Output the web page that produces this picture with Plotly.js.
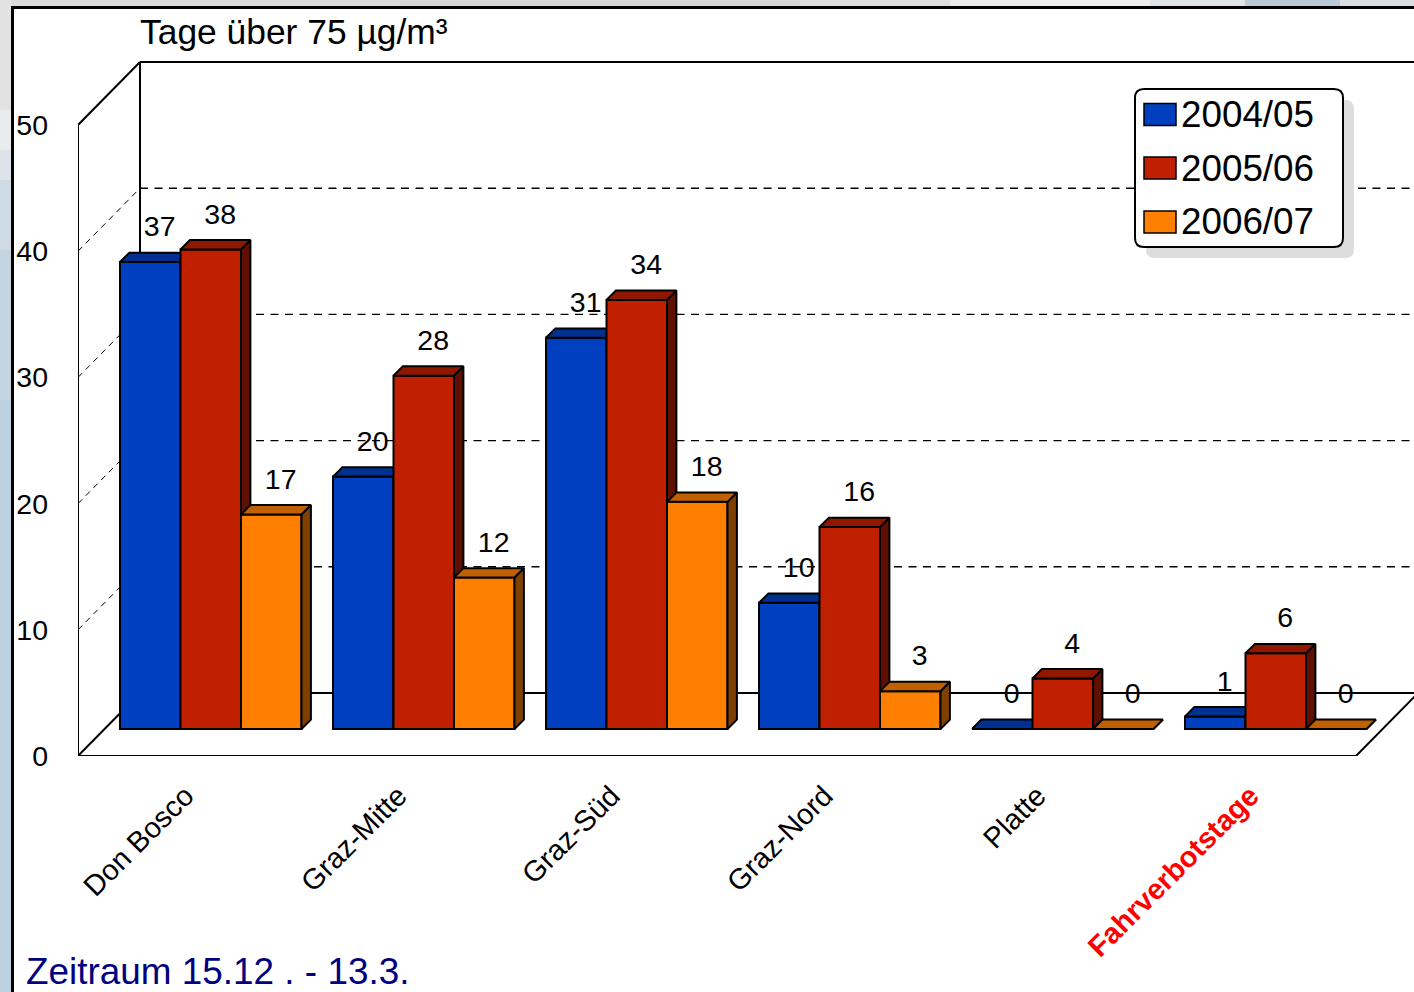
<!DOCTYPE html>
<html><head><meta charset="utf-8">
<script src="https://cdn.plot.ly/plotly-3.0.1.min.js"></script>
<style>html,body{margin:0;padding:0;background:#fff;overflow:hidden}</style>
</head><body><div id="chart" style="width:1414px;height:992px"></div>
<script>
const categories = ["Don Bosco","Graz-Mitte","Graz-Süd","Graz-Nord","Platte","Fahrverbotstage"];
const seriesNames = ["2004/05","2005/06","2006/07"];
const values0405 = [37,20,31,10,0,1];
const values0506 = [38,28,34,16,4,6];
const values0607 = [17,12,18,3,0,0];
const gridValues = [10,20,30,40];
const yTicks = [0,10,20,30,40,50];
const frontColors = ["#0040C0","#C02000","#FF8000"];
const topColors = ["#003090","#901800","#C06000"];
const sideColors = ["#002060","#601000","#804000"];

const FONT = "Liberation Sans, Arial, Helvetica, sans-serif";
const W=1414,H=992,L=78,T=10,B=756;
const PXX=213, PXY=12.62;
const xRange=[-0.5,-0.5+(W-L)/PXX], yRange=[0,(B-T)/PXY];
const floorDX=62/PXX, floorDY=63/PXY;     // full depth of the chart box
const base=27/PXY;                         // bars stand this far into the box
const barW=60.5/PXX, barDX=9.4/PXX, barDY=9.4/PXY;
const groupStart=-64.5/PXX;
const labelLift=33/PXY;
const px=x=>(x-L)/(W-L), py=y=>(B-y)/(B-T);

const all=[values0405,values0506,values0607];
const traces=[];
all.forEach((vals,s)=>{
  const suf=s===0?"":String(s+1);
  const xa="x"+suf, ya="y"+suf;
  const left=categories.map((c,i)=>i+groupStart+barW*s);
  const center=left.map(v=>v+barW/2);
  traces.push({type:"bar",name:seriesNames[s],x:center,y:vals,base:vals.map(()=>base),width:barW,
    xaxis:xa,yaxis:ya,marker:{color:frontColors[s],line:{color:"#000",width:2}},
    customdata:categories,hovertemplate:"%{customdata}<br>"+seriesNames[s]+": %{y}<extra></extra>"});
  const sx=[],sy=[],tx=[],ty=[];
  vals.forEach((v,i)=>{
    const x0=left[i],x1=x0+barW,y0=base,y1=base+v;
    tx.push(x0,x0+barDX,x1+barDX,x1,x0,null);
    ty.push(y1,y1+barDY,y1+barDY,y1,y1,null);
    sx.push(x1,x1+barDX,x1+barDX,x1,x1,null);
    sy.push(y0,y0+barDY,y1+barDY,y1,y0,null);
  });
  traces.push({type:"scatter",mode:"lines",x:sx,y:sy,xaxis:xa,yaxis:ya,fill:"toself",fillcolor:sideColors[s],
    line:{color:"#000",width:2},hoverinfo:"skip",showlegend:false});
  traces.push({type:"scatter",mode:"lines",x:tx,y:ty,xaxis:xa,yaxis:ya,fill:"toself",fillcolor:topColors[s],
    line:{color:"#000",width:2},hoverinfo:"skip",showlegend:false});
});
all.forEach((vals,s)=>{
  traces.push({type:"scatter",mode:"text",xaxis:"x3",yaxis:"y3",
    x:vals.map((v,i)=>i+groupStart+barW*(s+.5)+barDX),
    y:vals.map(v=>base+v+labelLift),
    text:vals.map(String),textposition:"middle center",
    textfont:{family:FONT,size:28.5,color:"#000"},cliponaxis:false,hoverinfo:"skip",showlegend:false});
});

const line=(x0,y0,x1,y1,w,dash)=>({type:"line",xref:"x",yref:"y",x0,y0,x1,y1,layer:"below",
  line:{color:"#000",width:w,dash:dash||"solid"}});
const rectPx=(x0,y0,x1,y1,color,layer)=>({type:"rect",xref:"paper",yref:"paper",x0:px(x0),x1:px(x1),y0:py(y1),y1:py(y0),
  fillcolor:color,line:{width:0},layer:layer||"below"});
const roundBox=(x0,y0,x1,y1,r,fill,lw)=>{
  const X=v=>px(v),Y=v=>py(v);
  const p=`M${X(x0+r)},${Y(y0)} L${X(x1-r)},${Y(y0)} Q${X(x1)},${Y(y0)} ${X(x1)},${Y(y0+r)} L${X(x1)},${Y(y1-r)} Q${X(x1)},${Y(y1)} ${X(x1-r)},${Y(y1)} L${X(x0+r)},${Y(y1)} Q${X(x0)},${Y(y1)} ${X(x0)},${Y(y1-r)} L${X(x0)},${Y(y0+r)} Q${X(x0)},${Y(y0)} ${X(x0+r)},${Y(y0)} Z`;
  return {type:"path",xref:"paper",yref:"paper",path:p,fillcolor:fill,layer:"above",
    line:{color:lw?"#000":fill,width:lw||0}};
};

const x0v=xRange[0], xEnd=xRange[1]+0.05, xFrontEnd=5.5, yTop=yTicks[yTicks.length-1];
const shapes=[
  // page backdrop around the chart frame
  rectPx(0,0,400,6,"#DADADA"),rectPx(400,0,800,6,"#D6D6D6"),rectPx(800,0,950,6,"#DEDEDE"),rectPx(950,0,1040,6,"#EAEAEA"),
  rectPx(1040,0,1150,6,"#EFEFEF"),rectPx(1150,0,1245,6,"#E0E4E7"),rectPx(1245,0,1340,6,"#B9CBD9"),rectPx(1340,0,1414,6,"#D8DEE3"),
  rectPx(0,0,11,110,"#E2E2E2"),rectPx(0,110,11,150,"#E9ECEE"),rectPx(0,150,11,180,"#DDE3E8"),rectPx(0,180,11,250,"#CFDBE4"),
  rectPx(0,250,11,400,"#C4D4E1"),rectPx(0,400,11,992,"#BDD0E0"),
  rectPx(11,6,1414,9,"#000"),rectPx(11,6,14,992,"#000"),
  // chart box
  line(x0v,0,x0v,yTop,2),
  line(x0v,yTop,x0v+floorDX,yTop+floorDY,2),
  line(x0v+floorDX,floorDY,x0v+floorDX,yTop+floorDY,2),
  line(x0v+floorDX,yTop+floorDY,xEnd,yTop+floorDY,2),
  line(x0v,0,xFrontEnd,0,2),
  line(x0v,0,x0v+floorDX,floorDY,2),
  line(x0v+floorDX,floorDY,xEnd,floorDY,2),
  line(xFrontEnd,0,xFrontEnd+floorDX,floorDY,2)
];
gridValues.forEach(v=>{
  shapes.push(line(x0v+floorDX,v+floorDY,xEnd,v+floorDY,1.4,"8px,6.5px"));
  shapes.push(line(x0v,v,x0v+floorDX,v+floorDY,1,"6px,5px"));
});
// legend box
shapes.push(roundBox(1146,100,1354,258,9,"#DDDDDD",0));
shapes.push(roundBox(1135,89,1343,247,9,"#FFFFFF",2));
const legendY=[114.5,168,222];
const annotations=[
  {xref:"paper",yref:"paper",x:px(138),y:py(32.5),xanchor:"left",yanchor:"middle",showarrow:false,
   text:"Tage über 75 µg/m³",font:{family:FONT,size:35.4,color:"#000"}},
  {xref:"paper",yref:"paper",x:px(24),y:py(971),xanchor:"left",yanchor:"middle",showarrow:false,
   text:"Zeitraum 15.12 . - 13.3.",font:{family:FONT,size:36.9,color:"#000080"}}
];
seriesNames.forEach((n,s)=>{
  shapes.push({type:"rect",xref:"paper",yref:"paper",x0:px(1144),x1:px(1176),y0:py(legendY[s]+11),y1:py(legendY[s]-11),
    fillcolor:frontColors[s],line:{color:"#000",width:1.5},layer:"above"});
  annotations.push({xref:"paper",yref:"paper",x:px(1179),y:py(legendY[s]),xanchor:"left",yanchor:"middle",showarrow:false,
    text:n,font:{family:FONT,size:36.8,color:"#000"}});
});

const hiddenX={overlaying:"x",range:xRange,visible:false,fixedrange:true};
const hiddenY={overlaying:"y",range:yRange,visible:false,fixedrange:true};
const tickText=categories.map((c,i)=>i===categories.length-1?`<b><span style="color:#FF0000">${c}</span></b>`:c);
const layout={
  width:W,height:H,margin:{l:L,r:0,t:T,b:H-B,pad:0},
  paper_bgcolor:"#FFFFFF",plot_bgcolor:"rgba(0,0,0,0)",showlegend:false,barmode:"overlay",
  xaxis:{range:xRange,tickmode:"array",tickvals:categories.map((c,i)=>i),ticktext:tickText,tickangle:-45,
    showgrid:false,zeroline:false,showline:false,ticks:"",ticklabelstandoff:16,ticklabelshift:1,
    tickfont:{family:FONT,size:29,color:"#000"},fixedrange:true},
  yaxis:{range:yRange,tickmode:"array",tickvals:yTicks,ticktext:yTicks.map(String),
    showgrid:false,zeroline:false,showline:false,ticks:"",ticklabelstandoff:29,
    tickfont:{family:FONT,size:28.5,color:"#000"},fixedrange:true},
  xaxis2:hiddenX,yaxis2:hiddenY,xaxis3:hiddenX,yaxis3:hiddenY,
  shapes,annotations
};
Plotly.newPlot("chart",traces,layout,{displayModeBar:false});
</script></body></html>
